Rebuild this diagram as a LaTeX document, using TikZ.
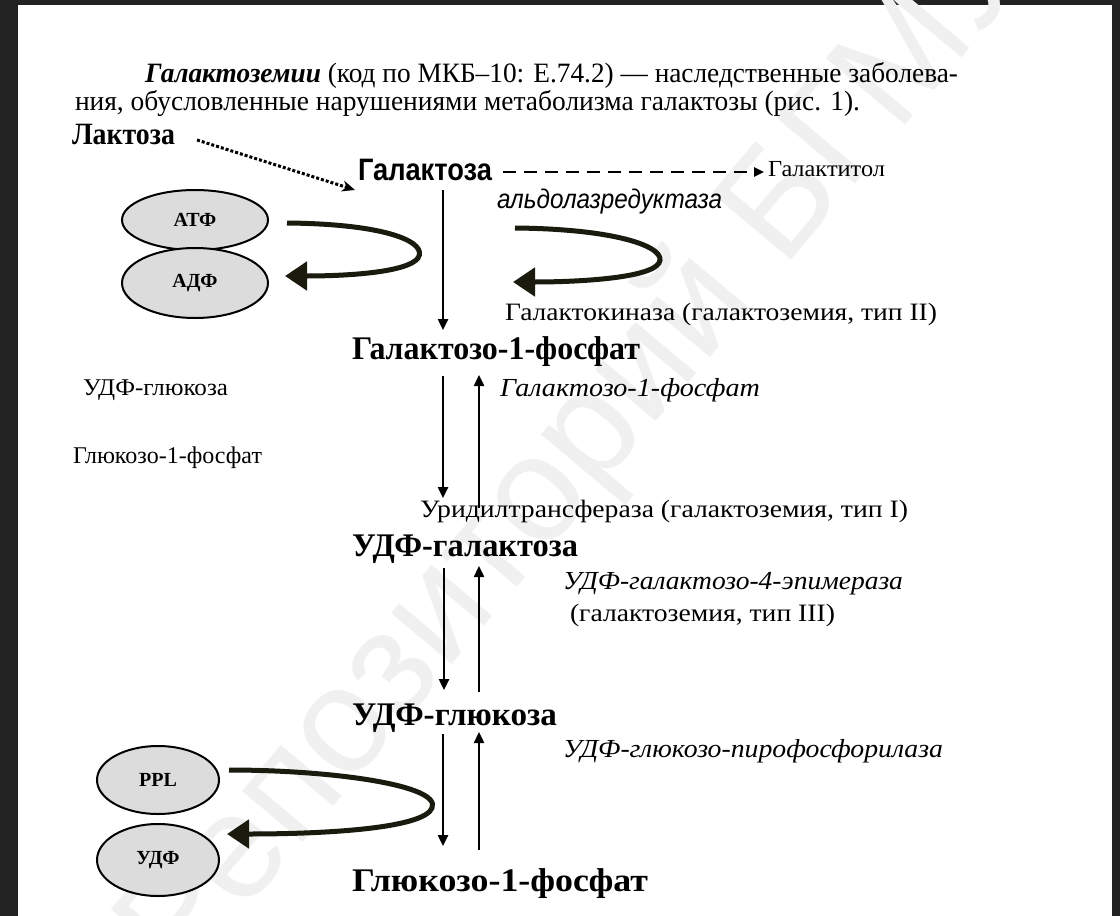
\documentclass[tikz,border=0pt]{standalone}
\usepackage{graphicx}
\usepackage{fontspec}
\setmainfont{Liberation Serif}
\newfontfamily\arialf{Liberation Sans}
\usetikzlibrary{arrows.meta,shapes.geometric}
\definecolor{bordercol}{HTML}{222222}
\definecolor{curvcol}{HTML}{1A1A0E}
\definecolor{ellfill}{HTML}{DCDCDC}
\newcommand{\fw}[2]{\resizebox{#1}{\height}{#2}}
\newcommand{\fsz}[1]{\fontsize{#1}{#1}\selectfont}
\begin{document}
\begin{tikzpicture}[x=1pt,y=-1pt,
  lbl/.style={inner sep=0pt, outer sep=0pt, anchor=base west},
  metab/.style={lbl, font=\bfseries\fsz{33}},
  plain/.style={lbl, font=\fsz{25}},
  ital/.style={lbl, font=\itshape\fsz{26}},
  ell/.style={ellipse, draw, line width=2pt, fill=ellfill, inner sep=0pt, font=\bfseries\fsz{20}},
  arr/.style={line width=2.4pt, -{Triangle[length=11pt,width=10pt]}},
  curv/.style={line width=5pt, draw=curvcol, -{Triangle[length=22pt,width=28pt]}, fill=none}
]
\fill[bordercol] (0,0) rectangle (1120,916);
\fill[white] (18,5) rectangle (1112,916);
\useasboundingbox (0,0) rectangle (1120,916);

% watermark
\node[rotate=50, text=black!6, font=\arialf\fsz{150}, inner sep=0pt] (wm) at (580,450) {Репозиторий БГМУ};

% header
\node[lbl, font=\fsz{28}] (h1) at (145,82) {\fw{813pt}{\textbf{\textit{Галактоземии}} (код по МКБ–10: Е.74.2) — наследственные заболева-}};
\node[lbl, font=\fsz{28}] (h2) at (75,110) {\fw{785pt}{ния, обусловленные нарушениями метаболизма галактозы (рис. 1).}};

% metabolites
\node[metab, font=\bfseries\fsz{31}] (lac) at (72,144) {\fw{103pt}{Лактоза}};
\node[lbl, font=\arialf\bfseries\fsz{31}] (gal) at (358,180) {\fw{134pt}{Галактоза}};
\node[lbl, font=\fsz{23}] (galtol) at (768,176) {\fw{117pt}{Галактитол}};
\node[lbl, font=\arialf\itshape\fsz{27}] (aldo) at (497,208) {\fw{225pt}{альдолазредуктаза}};
\node[plain] (gk) at (505,320) {\fw{432pt}{Галактокиназа (галактоземия, тип II)}};
\node[metab] (g1p) at (352,359) {\fw{288pt}{Галактозо-1-фосфат}};
\node[lbl, font=\fsz{24}] (udpglL) at (83,395) {\fw{145pt}{УДФ-глюкоза}};
\node[lbl, font=\fsz{24}] (glc1pL) at (73,463) {\fw{189pt}{Глюкозо-1-фосфат}};
\node[ital] (g1pi) at (500,396) {\fw{260pt}{Галактозо-1-фосфат}};
\node[plain] (urid) at (420,517) {\fw{488pt}{Уридилтрансфераза (галактоземия, тип I)}};
\node[metab] (udpgal) at (352,556) {\fw{226pt}{УДФ-галактоза}};
\node[ital] (epi) at (563,589) {\fw{340pt}{УДФ-галактозо-4-эпимераза}};
\node[plain] (t3) at (570,621) {\fw{265pt}{(галактоземия, тип III)}};
\node[metab] (udpglc) at (352,725) {\fw{205pt}{УДФ-глюкоза}};
\node[ital] (pyro) at (563,757) {\fw{380pt}{УДФ-глюкозо-пирофосфорилаза}};
\node[metab] (glc1p) at (352,891) {\fw{296pt}{Глюкозо-1-фосфат}};

% ellipses
\node[ell, minimum width=146pt, minimum height=60pt] (atf) at (195,220) {АТФ};
\node[ell, minimum width=146pt, minimum height=70pt] (adf) at (195,283) {АДФ};
\node[ell, minimum width=122pt, minimum height=68pt] (ppl) at (158,780) {PPL};
\node[ell, minimum width=122pt, minimum height=72pt] (udf) at (158,860) {УДФ};

% coordinates for arrow ends
\coordinate (lacE) at (197,140);
\coordinate (galW) at (355,190);
\coordinate (galE) at (503,172);
\coordinate (galtolW) at (764,172);
\coordinate (a1s) at (443,190);  \coordinate (a1e) at (443,330);
\coordinate (a2s) at (443,376);  \coordinate (a2e) at (443,498);
\coordinate (b2s) at (479,508);  \coordinate (b2e) at (479,375);
\coordinate (a3s) at (444,568);  \coordinate (a3e) at (444,690);
\coordinate (b3s) at (479,692);  \coordinate (b3e) at (479,566);
\coordinate (a4s) at (443,734);  \coordinate (a4e) at (443,846);
\coordinate (b4s) at (479,850);  \coordinate (b4e) at (479,732);

\draw[line width=3pt, dotted, -{Stealth[length=13pt,width=11pt]}] (lacE) -- (galW);
\draw[line width=2.4pt, dash pattern=on 13pt off 8pt, -{Triangle[length=10pt,width=9pt]}] (galE) -- (galtolW);
\draw[arr] (a1s) -- (a1e);
\draw[arr] (a2s) -- (a2e);
\draw[arr] (b2s) -- (b2e);
\draw[arr] (a3s) -- (a3e);
\draw[arr] (b3s) -- (b3e);
\draw[arr] (a4s) -- (a4e);
\draw[arr] (b4s) -- (b4e);

% curved cofactor arrows
\coordinate (c1s) at (287,223); \coordinate (c1e) at (285,276);
\draw[curv] (c1s) .. controls (390,224) and (428,243) .. (418,258) .. controls (408,272) and (350,276) .. (c1e);
\coordinate (c2s) at (515,228); \coordinate (c2e) at (513,282);
\draw[curv] (c2s) .. controls (620,229) and (668,248) .. (659,263) .. controls (650,278) and (580,282) .. (c2e);
\coordinate (c3s) at (229,770); \coordinate (c3e) at (227,834);
\draw[curv] (c3s) .. controls (330,770) and (442,785) .. (432,808) .. controls (424,828) and (330,834) .. (c3e);
\end{tikzpicture}
\end{document}
